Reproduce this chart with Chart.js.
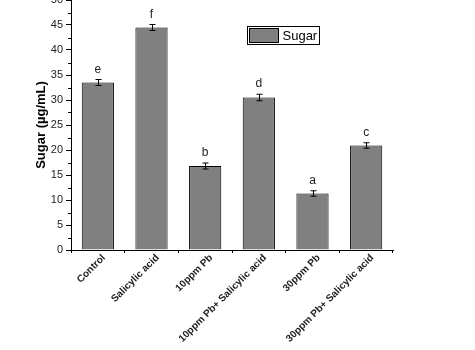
<!DOCTYPE html>
<html>
<head>
<meta charset="utf-8">
<script src="https://cdn.jsdelivr.net/npm/chart.js@4/dist/chart.umd.min.js"></script>
<style>
  body { margin: 0; background: #fff; }
  canvas { display: block; }
</style>
</head>
<body>
<canvas id="sugar-chart" width="475" height="350"></canvas>
<script>

const treatments = ["Control", "Salicylic acid", "10ppm Pb", "10ppm Pb+ Salicylic acid", "30ppm Pb", "30ppm Pb+ Salicylic acid"];
const sugar      = [33.5, 44.5, 16.8, 30.5, 11.3, 20.9];
const sugarErr   = [0.6, 0.6, 0.6, 0.65, 0.55, 0.55];
const letters    = ["e", "f", "b", "d", "a", "c"];
const yTicks     = [0, 5, 10, 15, 20, 25, 30, 35, 40, 45, 50];

const font = "'Liberation Sans', Arial, sans-serif";


// error bars and significance letters on top of the bars
const errorBars = {
    id: 'errorBars',
    afterDatasetsDraw( chart ) {
        const ctx = chart.ctx;
        const meta = chart.getDatasetMeta(0);
        const y = chart.scales.y;
        ctx.save();
        ctx.strokeStyle = '#000';
        ctx.lineWidth = 1;
        meta.data.forEach( ( bar, i ) => {
            const x = Math.round( bar.x ) + 0.5;
            const top = y.getPixelForValue( sugar[i] + sugarErr[i] );
            const bottom = y.getPixelForValue( sugar[i] - sugarErr[i] );
            ctx.beginPath();
            ctx.moveTo( x, top ); ctx.lineTo( x, bottom );
            ctx.moveTo( x - 3, top ); ctx.lineTo( x + 3, top );
            ctx.moveTo( x - 3, bottom ); ctx.lineTo( x + 3, bottom );
            ctx.stroke();

            ctx.fillStyle = '#222';
            ctx.font = `12px ${font}`;
            ctx.textAlign = 'center';
            ctx.textBaseline = 'alphabetic';
            ctx.fillText( letters[i], bar.x, top - 7 );
        } )
        ctx.restore();
    }
};


// minor ticks on the y axis and the boxed legend
const extras = {
    id: 'extras',
    afterDraw( chart ) {
        const ctx = chart.ctx;
        const y = chart.scales.y;
        const left = chart.chartArea.left;
        ctx.save();
        ctx.strokeStyle = '#000';
        ctx.lineWidth = 1;
        ctx.beginPath();
        for ( let i = 0; i < yTicks.length - 1; i++ ) {
            const py = Math.round( y.getPixelForValue( ( yTicks[i] + yTicks[i + 1] ) / 2 ) ) + 0.5;
            ctx.moveTo( left - 3, py );
            ctx.lineTo( left, py );
        }
        ctx.stroke();

        // legend
        const ds = chart.data.datasets[0];
        const lx = left + 176.5, ly = 26.5;
        ctx.strokeRect( lx, ly, 72, 18 );
        ctx.fillStyle = ds.backgroundColor;
        ctx.fillRect( lx + 2, ly + 2, 29, 14 );
        ctx.strokeRect( lx + 2, ly + 2, 29, 14 );
        ctx.fillStyle = '#000';
        ctx.font = `13px ${font}`;
        ctx.textAlign = 'left';
        ctx.textBaseline = 'middle';
        ctx.fillText( ds.label, lx + 35, ly + 9.5 );
        ctx.restore();
    }
};


const ctx = document.getElementById('sugar-chart').getContext('2d');
const chart = new Chart(ctx, {
    type: 'bar',

    data: {
        labels: treatments,
        datasets: [ {
            label: 'Sugar',
            data: sugar,
            backgroundColor: '#808080',
            borderColor: '#000',
            borderWidth: 1,
            categoryPercentage: 1,
            barPercentage: 0.6
        } ]
    },

    options: {
        responsive: false,
        animation: false,
        layout: { padding: { left: 0, right: 82, top: 0, bottom: 0 } },
        plugins: {
            legend: { display: false },
            tooltip: { enabled: false }
        },
        scales: {
            x: {
                grid: { drawOnChartArea: false, tickLength: 3, color: '#000' },
                border: { color: '#000', width: 1 },
                ticks: {
                    color: '#222',
                    font: { family: font, size: 10, weight: 'bold' },
                    minRotation: 45,
                    maxRotation: 45,
                    autoSkip: false,
                    padding: -1,
                    labelOffset: 6
                },
                afterFit( scale ) {
                    scale.height = 100;
                    scale.paddingLeft = 0;
                    scale.paddingRight = 0;
                }
            },
            y: {
                min: 0,
                max: 50,
                afterBuildTicks( scale ) {
                    scale.ticks = yTicks.map( v => ( { value: v } ) );
                },
                grid: { drawOnChartArea: false, tickLength: 5, color: '#000' },
                border: { color: '#000', width: 1 },
                ticks: {
                    color: '#222',
                    font: { family: font, size: 11 },
                    padding: 3
                },
                title: {
                    display: true,
                    text: 'Sugar (µg/mL)',
                    color: '#000',
                    font: { family: font, size: 13, weight: 'bold' },
                    padding: { top: 34, bottom: 0 }
                },
                afterFit( scale ) {
                    scale.width = 71;
                    scale.paddingTop = 0;
                    scale.paddingBottom = 0;
                }
            }
        }
    },

    plugins: [ errorBars, extras ]
} );

</script>
</body>
</html>
